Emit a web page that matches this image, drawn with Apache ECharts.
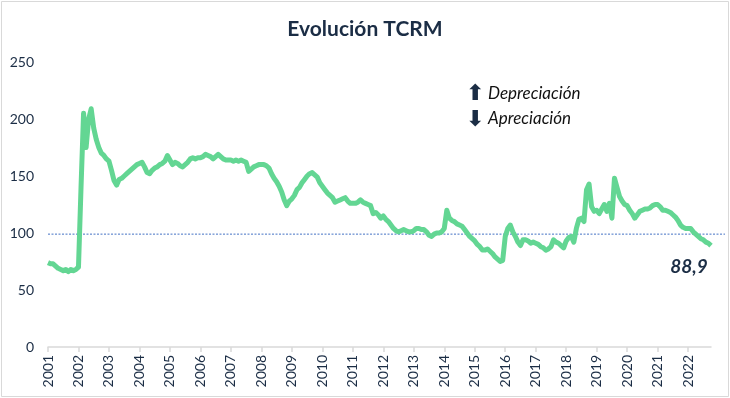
<!DOCTYPE html>
<html>
<head>
<meta charset="utf-8">
<title>Evolución TCRM</title>
<script src="https://cdn.jsdelivr.net/npm/echarts@6/dist/echarts.min.js"></script>
<style>
  html, body { margin: 0; padding: 0; background: #fff; }
  #chart { width: 730px; height: 398px; }
</style>
</head>
<body>
<div id="chart"></div>
<script>
// meses desde 2001-01 hasta 2022-10
const startYear = 2001;
const months = [];
for (let i = 0; i < 262; i++) {
  const y = startYear + Math.floor(i / 12);
  const m = (i % 12) + 1;
  months.push(y + '-' + (m < 10 ? '0' + m : m));
}

// valores mensuales del índice TCRM
const tcrm = [
  74, 73, 73, 71, 69, 68, 67, 68, 66, 68, 67, 68,           // 2001
  70, 140, 205, 175, 200, 209, 192, 182, 175, 170, 168, 165, // 2002
  163, 155, 146, 142, 147, 148, 150, 152, 154, 156, 158, 160, // 2003
  161, 162, 158, 153, 152, 155, 157, 158, 160, 161, 163, 168, // 2004
  164, 160, 162, 161, 159, 158, 160, 162, 165, 166, 165, 166, // 2005
  166, 167, 169, 168, 167, 165, 167, 169, 167, 165, 164, 164, // 2006
  164, 163, 164, 163, 164, 163, 162, 154, 156, 158, 159, 160, // 2007
  160, 160, 159, 157, 152, 148, 145, 141, 136, 129, 124, 128, // 2008
  130, 133, 138, 140, 144, 147, 150, 152, 153, 151, 149, 144, // 2009
  141, 138, 135, 133, 131, 127, 128, 129, 130, 131, 128, 126, // 2010
  126, 126, 127, 129, 127, 126, 125, 124, 117, 118, 116, 113, // 2011
  115, 112, 110, 107, 104, 102, 101, 102, 103, 102, 101, 101, // 2012
  102, 104, 104, 103, 103, 101, 98, 97, 99, 100, 100, 101,    // 2013
  104, 120, 113, 111, 110, 108, 107, 106, 103, 100, 97, 95,   // 2014
  93, 90, 88, 85, 85, 86, 84, 82, 79, 77, 75, 76,             // 2015
  97, 104, 107, 101, 97, 92, 89, 94, 94, 93, 91, 92,          // 2016
  91, 90, 88, 87, 85, 86, 88, 94, 92, 91, 89, 87,             // 2017
  93, 96, 97, 92, 104, 112, 113, 110, 138, 143, 123, 119,     // 2018
  120, 117, 121, 125, 119, 126, 113, 148, 140, 132, 128, 125, // 2019
  124, 120, 117, 113, 116, 119, 120, 121, 121, 122, 124, 125, // 2020
  125, 123, 120, 120, 119, 118, 116, 114, 111, 107, 105, 104, // 2021
  104, 104, 101, 99, 97, 95, 94, 92, 91, 88.9                 // 2022
];

// línea de referencia punteada
const referencia = [99, 99];
const yTicks = [0, 50, 100, 150, 200, 250];

const navy = '#1b2d45';
const fontFam = 'Lato, "Open Sans", sans-serif';

const chart = echarts.init(document.getElementById('chart'), null, { renderer: 'canvas' });

const lastIdx = tcrm.length - 1;

const option = {
  animation: false,
  backgroundColor: '#fff',
  title: {
    text: 'Evolución TCRM',
    left: 'center',
    top: 14,
    textStyle: { fontFamily: fontFam, fontSize: 21, fontWeight: 'bold', color: navy }
  },
  graphic: [
    {
      type: 'rect', silent: true,
      shape: { x: 1.5, y: 1.5, width: 727, height: 395 },
      style: { fill: 'none', stroke: '#d9d9d9', lineWidth: 1 }
    },
    {
      type: 'text', left: 466, top: 83,
      style: { text: '⬆', font: 'bold 22px "DejaVu Sans"', fill: navy }
    },
    {
      type: 'text', left: 488, top: 85,
      style: { text: 'Depreciación', font: 'italic 17px Lato, sans-serif', fill: '#111' }
    },
    {
      type: 'text', left: 466, top: 109,
      style: { text: '⬇', font: 'bold 22px "DejaVu Sans"', fill: navy }
    },
    {
      type: 'text', left: 488, top: 110,
      style: { text: 'Apreciación', font: 'italic 17px Lato, sans-serif', fill: '#111' }
    }
  ],
  grid: [
    { left: 48, right: 19, top: 62, bottom: 51 },
    { left: 48, right: 5, top: 62, bottom: 51 }
  ],
  xAxis: [
    {
      type: 'category',
      gridIndex: 0,
      data: months,
      boundaryGap: false,
      axisLine: { lineStyle: { color: '#d9d9d9', width: 1.5 } },
      axisTick: {
        length: 5,
        lineStyle: { color: '#d9d9d9', width: 1.5 },
        interval: function (i) { return i % 12 === 0; }
      },
      axisLabel: {
        rotate: 90,
        margin: 8,
        interval: function (i) { return i % 12 === 0; },
        formatter: function (v) { return v.slice(0, 4); },
        fontFamily: fontFam,
        fontSize: 14,
        color: navy
      },
      splitLine: { show: false }
    },
    {
      type: 'value', gridIndex: 1, min: 0, max: 1, show: false
    }
  ],
  yAxis: [
    {
      type: 'value',
      gridIndex: 0,
      min: yTicks[0],
      max: yTicks[yTicks.length - 1],
      interval: 50,
      axisLine: { show: false },
      axisTick: { show: false },
      splitLine: { show: false },
      axisLabel: { margin: 14, fontFamily: fontFam, fontSize: 14, color: navy }
    },
    {
      type: 'value', gridIndex: 1, min: 0, max: 250, show: false
    }
  ],
  series: [
    {
      name: 'Referencia',
      type: 'line',
      xAxisIndex: 1,
      yAxisIndex: 1,
      data: [[0, referencia[0]], [1, referencia[1]]],
      showSymbol: false,
      lineStyle: { color: '#4472c4', width: 1, type: [2, 1.5] },
      z: 1
    },
    {
      name: 'TCRM',
      type: 'line',
      xAxisIndex: 0,
      yAxisIndex: 0,
      data: tcrm,
      showSymbol: false,
      lineStyle: { color: '#63d693', width: 5, join: 'round' },
      markPoint: {
        symbol: 'circle',
        symbolSize: 2,
        silent: true,
        itemStyle: { color: 'rgba(0,0,0,0)' },
        label: {
          show: true,
          position: 'bottom',
          distance: 11,
          offset: [-22, 0],
          formatter: function (p) { return String(p.value).replace('.', ','); },
          fontFamily: fontFam,
          fontSize: 19,
          fontWeight: 'bold',
          fontStyle: 'italic',
          color: navy
        },
        data: [{ xAxis: lastIdx, yAxis: tcrm[lastIdx], value: tcrm[lastIdx] }]
      },
      z: 2
    }
  ]
};

chart.setOption(option);
</script>
</body>
</html>
